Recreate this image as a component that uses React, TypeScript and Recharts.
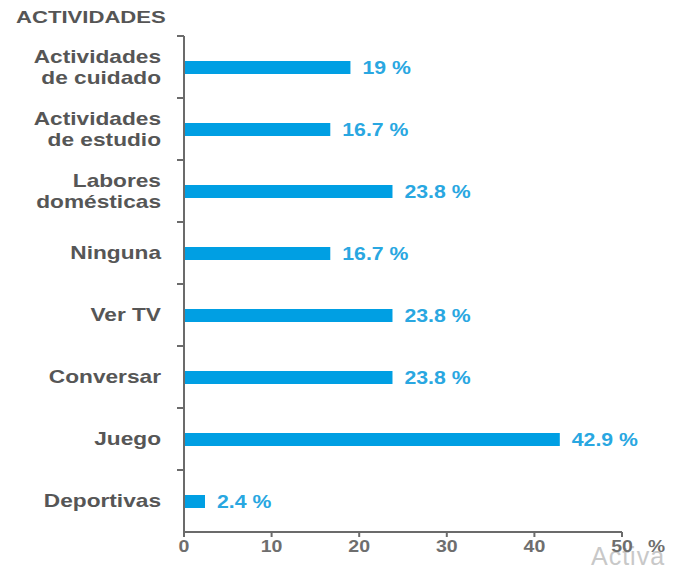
import { BarChart, Bar, XAxis, YAxis, LabelList } from 'recharts';

const categories = [
  'Actividades\nde cuidado',
  'Actividades\nde estudio',
  'Labores\ndomésticas',
  'Ninguna',
  'Ver TV',
  'Conversar',
  'Juego',
  'Deportivas',
];
const percentages = [19, 16.7, 23.8, 16.7, 23.8, 23.8, 42.9, 2.4];
const xTicks = [0, 10, 20, 30, 40, 50];

const data = categories.map((name, i) => ({ name, value: percentages[i] }));

const W = 674;
const H = 565;
const TOP = 36;
const BOTTOM = 532;
const AXIS_X = 184;
const AXIS_COLOR = '#6b6b6b';
const FONT = '"Liberation Sans", Arial, sans-serif';
const STRETCH = 1.26;

// the original art is stretched sideways, so text is scaled in x
function CategoryTick(props: any) {
  const { y, payload } = props;
  const band = (BOTTOM - TOP) / categories.length;
  const lines: string[] = String(payload.value).split('\n');
  const lh = 21;
  const first = -((lines.length - 1) * lh) / 2 + 6;
  return (
    <g>
      <line x1={AXIS_X - 7} x2={AXIS_X} y1={y - band / 2} y2={y - band / 2} stroke={AXIS_COLOR} strokeWidth={2} />
      <text
        transform={`translate(161,${y}) scale(${STRETCH},1)`}
        x={0}
        y={0}
        textAnchor="end"
        fill="#565656"
        fontSize={18}
        fontWeight="bold"
        fontFamily={FONT}
      >
        {lines.map((l, i) => (
          <tspan key={i} x={0} dy={i === 0 ? first : lh}>
            {l}
          </tspan>
        ))}
      </text>
    </g>
  );
}

function ValueTick(props: any) {
  const { x, y, payload } = props;
  return (
    <text
      transform={`translate(${x},${y + 15}) scale(1.22,1)`}
      x={0}
      y={0}
      textAnchor="middle"
      fill="#6e6e6e"
      fontSize={16}
      fontWeight="bold"
      fontFamily={FONT}
    >
      {payload.value}
    </text>
  );
}

function BarValue(props: any) {
  const { x, y, width, height, value } = props;
  return (
    <text
      transform={`translate(${x + width + 12},${y + height / 2 + 6}) scale(1.18,1)`}
      x={0}
      y={0}
      fill="#29a7e1"
      fontSize={18}
      fontWeight="bold"
      fontFamily={FONT}
    >
      {`${value} %`}
    </text>
  );
}

export default function App() {
  return (
    <div style={{ position: 'absolute', left: 0, top: 0, width: W, height: H, overflow: 'hidden', background: '#fff', fontFamily: FONT }}>
      <div
        style={{
          position: 'absolute',
          left: 16,
          top: 8,
          fontSize: 17,
          lineHeight: '20px',
          fontWeight: 'bold',
          color: '#555',
          transform: 'scaleX(1.3)',
          transformOrigin: 'left top',
        }}
      >
        ACTIVIDADES
      </div>
      <div style={{ position: 'absolute', left: 591, top: 544, fontSize: 25, lineHeight: '25px', color: '#c8c8c8', letterSpacing: 1 }}>
        Activa
      </div>
      <BarChart
        width={W}
        height={H}
        data={data}
        layout="vertical"
        margin={{ top: TOP, right: W - 622, left: 0, bottom: 3 }}
        style={{ position: 'absolute', left: 0, top: 0 }}
      >
        <XAxis
          type="number"
          domain={[0, 50]}
          ticks={xTicks}
          height={30}
          axisLine={{ stroke: AXIS_COLOR, strokeWidth: 2 }}
          tickLine={{ stroke: AXIS_COLOR, strokeWidth: 2 }}
          tickSize={5}
          tickMargin={0}
          tick={<ValueTick />}
        />
        <YAxis
          type="category"
          dataKey="name"
          width={AXIS_X}
          axisLine={{ stroke: AXIS_COLOR, strokeWidth: 2 }}
          tickLine={false}
          tick={<CategoryTick />}
          interval={0}
        />
        <Bar dataKey="value" fill="#009fe3" barSize={13} isAnimationActive={false}>
          <LabelList dataKey="value" content={<BarValue />} />
        </Bar>
      </BarChart>
      <div
        style={{
          position: 'absolute',
          left: 648,
          top: 538,
          fontSize: 16,
          lineHeight: '18px',
          fontWeight: 'bold',
          color: '#6e6e6e',
          transform: 'scaleX(1.2)',
          transformOrigin: 'left top',
        }}
      >
        %
      </div>
    </div>
  );
}
